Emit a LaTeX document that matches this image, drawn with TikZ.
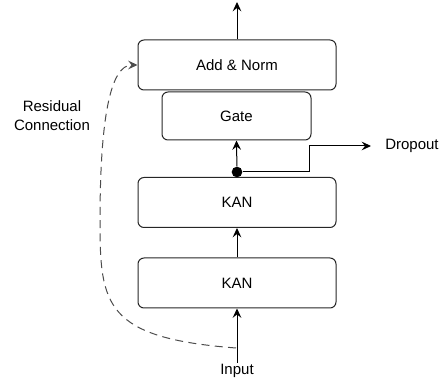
\documentclass[tikz,border=0pt]{standalone}
\usepackage{fontspec}
\setmainfont{Liberation Sans}
\usetikzlibrary{arrows.meta}

\begin{document}
\begin{tikzpicture}[x=0.75pt, y=-0.75pt,
	every node/.style={font=\fontsize{11.25}{14.25}\selectfont},
	block/.style={draw=black!85, line width=0.75pt, rounded corners=4.5pt, minimum width=148.5pt, minimum height=37.5pt, inner sep=0pt},
	flow/.style={draw=black, line width=0.75pt, -{Stealth[length=7pt, width=6.5pt, inset=2.5pt]}},
	residual/.style={draw=black!70, line width=0.75pt, dash pattern=on 6pt off 4pt, -{Stealth[length=7pt, width=6.5pt, inset=2.5pt]}}]
		%%%%% START %%%%%
		\useasboundingbox (0, 0) rectangle (444, 388);
		
		\node[block] (addnorm) at (237, 65) {Add \& Norm};
		\node[block, minimum width=111.75pt, minimum height=36pt] (gate) at (236.5, 116) {Gate};
		\node[block] (kan1) at (237, 202.5) {KAN};
		\node[block] (kan2) at (237, 283) {KAN};
		
		\node[inner sep=1pt] (input) at (237, 371) {Input};
		\node[inner xsep=10.5pt, inner ysep=1pt, anchor=west] (dropout) at (371, 146) {Dropout};
		\node[align=center, inner sep=0pt] (reslabel) at (52, 116) {Residual\\Connection};
		
		\node[circle, fill=black, inner sep=0pt, minimum size=8pt] (split) at (237, 172) {};
		\coordinate (out) at (237, 2);
		\coordinate (tap) at (236, 348);
		
		\draw[flow] (addnorm.north) -- (out);
		\draw[flow] (split) -- (gate.south);
		\draw[flow] (split.east) -- (309, 172) -- (309, 146) -- (dropout.west);
		\draw[flow] (kan2.north) -- (kan1.south);
		\draw[flow] (input.north) -- (kan2.south);
		
		\draw[residual] (tap) .. controls (105, 338) and (100, 305) .. (100, 222) .. controls (100, 120) and (110, 65) .. (addnorm.west);
		
		%%%%% END %%%%%
	\end{tikzpicture}
\end{document}
